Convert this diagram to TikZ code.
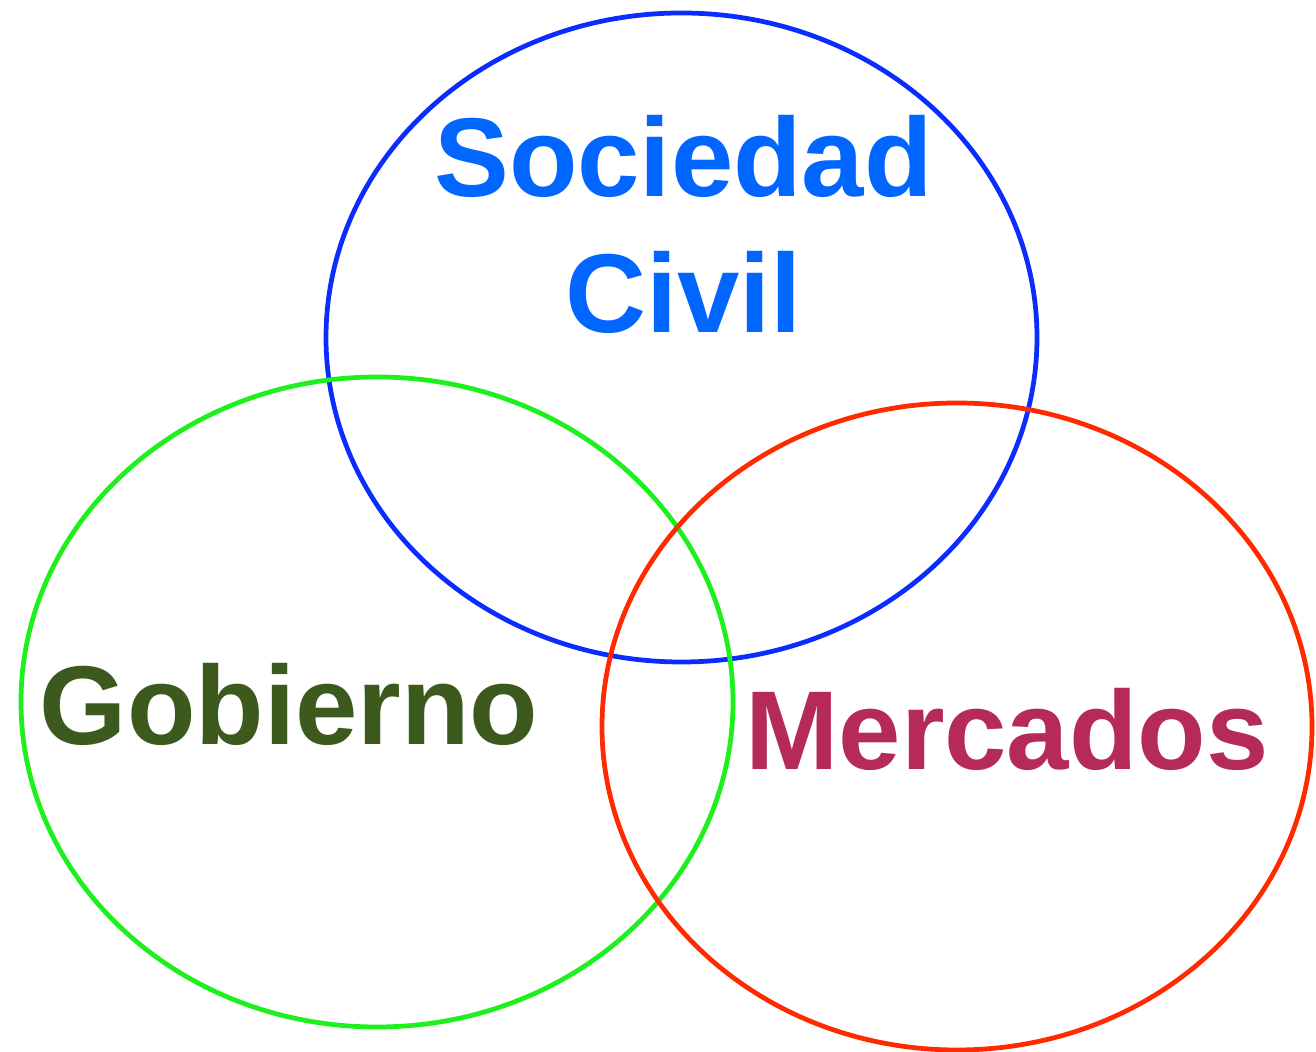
\documentclass[tikz,border=0pt]{standalone}
\usepackage{fontspec}
\setmainfont{Liberation Sans}
\usepackage{xcolor}

\definecolor{sociedadblue}{HTML}{0A2CFF}
\definecolor{sociedadtext}{HTML}{0066FF}
\definecolor{gobiernogreen}{HTML}{1EF01E}
\definecolor{gobiernotext}{HTML}{3C5A1E}
\definecolor{mercadosred}{HTML}{FF2A00}
\definecolor{mercadostext}{HTML}{B52A5A}

\begin{document}
\begin{tikzpicture}[
    ring/.style={line width=1.35pt},
    label/.style={inner sep=0pt, anchor=base, font=\fontsize{31.9}{38}\selectfont\bfseries}
  ]

    % Fix the page size (1316 x 1052 px)
    \useasboundingbox (0,0) rectangle (13.16,-10.52);

    % Centers of the three circles
    \coordinate (S) at (6.815,-3.375);
    \coordinate (G) at (3.77,-7.02);
    \coordinate (M) at (9.57,-7.265);

    % Draw the ellipses
    \draw[ring, sociedadblue] (S) ellipse (3.555cm and 3.245cm);
    \draw[ring, gobiernogreen] (G) ellipse (3.56cm and 3.25cm);
    \draw[ring, mercadosred] (M) ellipse (3.55cm and 3.235cm);

    % Label the circles
    \node[label, text=sociedadtext] (sociedad) at (6.835,-1.97) {Sociedad};
    \node[label, text=sociedadtext] (civil) at (6.835,-3.33) {Civil};
    \node[label, text=gobiernotext] (gobierno) at (2.89,-7.45) {Gobierno};
    \node[label, text=mercadostext] (mercados) at (10.07,-7.70) {Mercados};

\end{tikzpicture}
\end{document}
